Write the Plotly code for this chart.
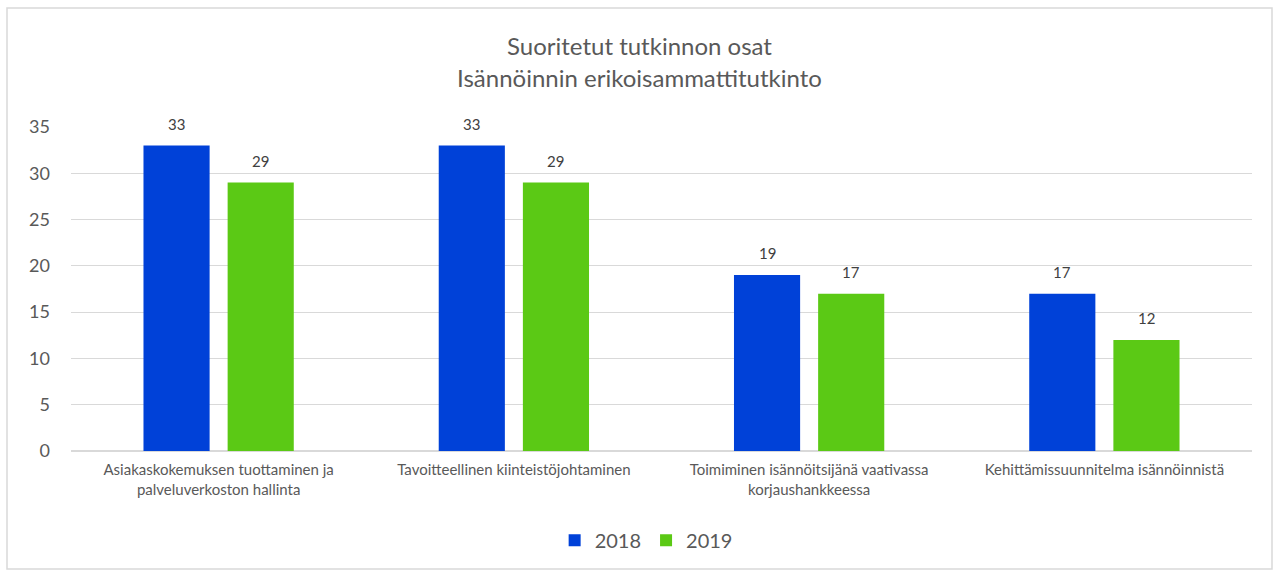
import plotly.graph_objects as go

categories = [
    "Asiakaskokemuksen tuottaminen ja<br>palveluverkoston hallinta",
    "Tavoitteellinen kiinteistöjohtaminen",
    "Toimiminen isännöitsijänä vaativassa<br>korjaushankkeessa",
    "Kehittämissuunnitelma isännöinnistä",
]
series_names = ["2018", "2019"]
values_2018 = [33, 33, 19, 17]
values_2019 = [29, 29, 17, 12]
colors = ["#0041d8", "#5bc915"]
y_ticks = [0, 5, 10, 15, 20, 25, 30, 35]

W, H = 1279, 572
ml, mr, mt, mb = 71, 27, 127, 121
pw, ph = W - ml - mr, H - mt - mb
FONT = "Lato, Open Sans, sans-serif"

fig = go.Figure()
for name, vals, col in zip(series_names, [values_2018, values_2019], colors):
    fig.add_trace(go.Bar(x=categories, y=vals, name=name, marker=dict(color=col, line=dict(width=0))))

annotations = []
for vals, shift in zip([values_2018, values_2019], [-42, 42]):
    for c, v in zip(categories, vals):
        annotations.append(dict(x=c, y=v, xref="x", yref="y", text=str(v), showarrow=False,
                                xshift=shift, yshift=22, yanchor="middle",
                                font=dict(size=15, color="#404040", family=FONT)))

fig.update_layout(
    width=W, height=H,
    margin=dict(l=ml, r=mr, t=mt, b=mb, autoexpand=False),
    paper_bgcolor="white", plot_bgcolor="white",
    font=dict(family=FONT, color="#595959"),
    title=dict(text="Suoritetut tutkinnon osat<br>Isännöinnin erikoisammattitutkinto",
               x=0.5, xanchor="center", y=0.903, yanchor="middle",
               font=dict(size=24, color="#595959")),
    bargap=0.43, bargroupgap=0.214,
    barmode="group",
    legend=dict(orientation="h", x=0.487, xanchor="center", y=-0.215, yanchor="top",
                font=dict(size=20, color="#595959")),
    annotations=annotations,
    shapes=[dict(type="rect", xref="paper", yref="paper",
                 x0=(7 - ml) / pw, x1=(1272 - ml) / pw,
                 y0=(H - mb - 569) / ph, y1=(H - mb - 8) / ph,
                 line=dict(color="#d9d9d9", width=1.5), fillcolor="rgba(0,0,0,0)", layer="below")],
)
fig.update_yaxes(range=[0, 35], tickvals=y_ticks, showgrid=True, gridcolor="#d9d9d9", gridwidth=1,
                 zeroline=True, zerolinecolor="#d9d9d9", zerolinewidth=1.5,
                 tickfont=dict(size=18, color="#595959"), ticks="", showline=False,
                 ticklabelstandoff=20)
fig.update_xaxes(tickfont=dict(size=15, color="#595959"), showline=False, ticks="",
                 ticklabelstandoff=8)

fig.write_html("out.html", config={"displayModeBar": False},
               post_script="document.body.style.margin='0';document.body.style.overflow='hidden';")
